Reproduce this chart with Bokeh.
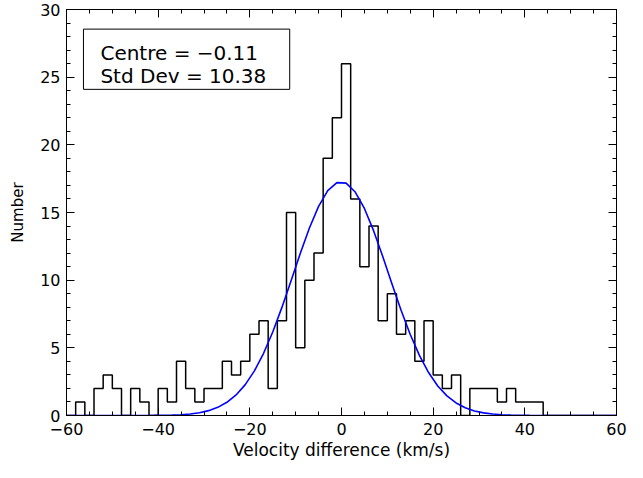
import numpy as np
from bokeh.plotting import figure
from bokeh.models import (SingleIntervalTicker, LinearAxis, BoxAnnotation, Label,
                          CustomJSTickFormatter, Range1d)
from bokeh.embed import file_html
from bokeh.resources import INLINE

# ---- data ----
bin_start = -60
bin_width = 2
counts = [0, 1, 0, 2, 3, 2, 0, 2, 1, 0,
          2, 1, 4, 2, 1, 2, 2, 4, 3, 4,
          6, 7, 2, 7, 15, 5, 10, 12, 19, 22,
          26, 16, 11, 14, 7, 9, 6, 7, 4, 7,
          3, 2, 3, 0, 2, 2, 2, 1, 2, 1,
          1, 1, 0, 0, 0, 0, 0, 0, 0, 0]
fit_centre = -0.11
fit_sigma = 10.38
fit_amplitude = 17.27
x_ticks_major = 20
y_ticks_major = 5

edges = bin_start + bin_width * np.arange(len(counts) + 1)
step_y = counts + [counts[-1]]
gx = np.arange(bin_start - bin_width / 2, -bin_start + bin_width, bin_width)
gy = fit_amplitude * np.exp(-0.5 * ((gx - fit_centre) / fit_sigma) ** 2)

FONT = "DejaVu Sans"

p = figure(width=627, height=462, output_backend="svg", toolbar_location=None,
           x_range=Range1d(-60, 60), y_range=Range1d(0, 30),
           min_border_left=66, min_border_right=11, min_border_top=9,
           min_border_bottom=44)
p.xgrid.grid_line_color = None
p.ygrid.grid_line_color = None
p.outline_line_color = "black"
p.outline_line_width = 1
p.background_fill_color = "white"
p.border_fill_color = "white"

fmt = CustomJSTickFormatter(code="return tick < 0 ? '\u2212' + (-tick) : String(tick);")
blank = CustomJSTickFormatter(code="return '';")

def style_axis(ax, ticker, labels=True):
    ax.ticker = ticker
    ax.axis_line_color = "black"
    ax.major_tick_in = 8
    ax.major_tick_out = 0
    ax.minor_tick_in = 4
    ax.minor_tick_out = 0
    ax.major_tick_line_color = "black"
    ax.minor_tick_line_color = "black"
    ax.major_tick_line_width = 1
    ax.minor_tick_line_width = 1
    if labels:
        ax.formatter = fmt
        ax.major_label_text_font = FONT
        ax.major_label_text_font_size = "16px"
        ax.major_label_text_color = "black"
        ax.axis_label_text_font = FONT
        ax.axis_label_text_font_style = "normal"
        ax.axis_label_text_color = "black"
    else:
        ax.formatter = blank
        ax.major_label_standoff = 0
        ax.axis_label_standoff = 0

xt = SingleIntervalTicker(interval=x_ticks_major, num_minor_ticks=4)
yt = SingleIntervalTicker(interval=y_ticks_major, num_minor_ticks=5)

style_axis(p.xaxis[0], xt)
style_axis(p.yaxis[0], yt)
p.xaxis[0].axis_label = "Velocity difference (km/s)"
p.yaxis[0].axis_label = "Number"
p.xaxis[0].axis_label_text_font_size = "17px"
p.yaxis[0].axis_label_text_font_size = "15px"
p.xaxis[0].major_label_standoff = 7
p.xaxis[0].axis_label_standoff = 2
p.yaxis[0].major_label_standoff = 6
p.yaxis[0].axis_label_standoff = 10

top_ax = LinearAxis()
style_axis(top_ax, SingleIntervalTicker(interval=x_ticks_major, num_minor_ticks=4), labels=False)
p.add_layout(top_ax, "above")
right_ax = LinearAxis()
style_axis(right_ax, SingleIntervalTicker(interval=y_ticks_major, num_minor_ticks=5), labels=False)
p.add_layout(right_ax, "right")

p.step(x=edges, y=step_y, mode="after", line_color="black", line_width=1.5)
p.line(x=gx, y=gy, line_color="#0000ff", line_width=1.6)

box = BoxAnnotation(left=-56.3, right=-11.3, bottom=24.1, top=28.55,
                    fill_color="white", fill_alpha=1.0, line_color="black",
                    line_alpha=1.0, line_width=1)
p.add_layout(box)
p.add_layout(Label(x=-52.6, y=26.8, text="Centre = \u22120.11", text_font=FONT,
                   text_font_size="20px", text_baseline="middle", text_color="black"))
p.add_layout(Label(x=-52.6, y=25.05, text="Std Dev = 10.38", text_font=FONT,
                   text_font_size="20px", text_baseline="middle", text_color="black"))

open("out.html", "w").write(file_html(p, INLINE))
